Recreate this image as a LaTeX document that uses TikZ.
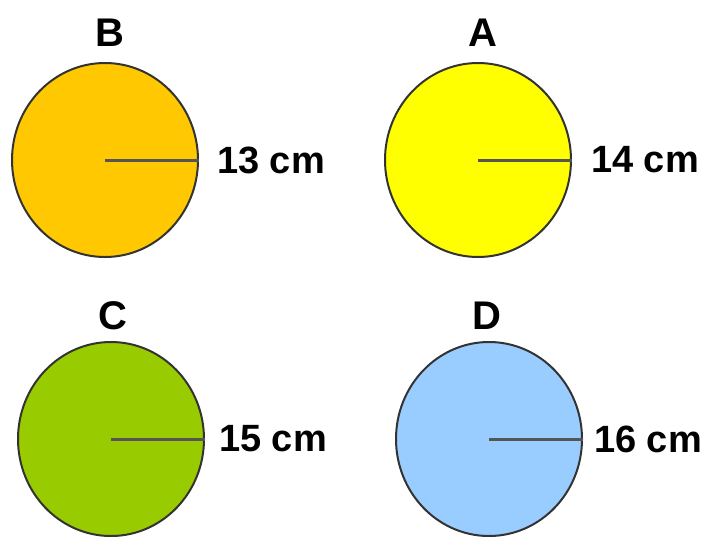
\documentclass[tikz,border=0pt]{standalone}
\usepackage{fontspec}
\setmainfont{Liberation Sans}
\usetikzlibrary{positioning}
\usetikzlibrary{shapes.geometric}
\definecolor{fillB}{HTML}{FFC800}
\definecolor{fillA}{HTML}{FFFF00}
\definecolor{fillC}{HTML}{99CC00}
\definecolor{fillD}{HTML}{99CCFF}
\definecolor{rimgray}{HTML}{333333}
\definecolor{radgray}{HTML}{555555}
\tikzset{
    x=1pt, y=-1pt, % one unit is one pixel, y going down
    disc/.style={ellipse, draw=rimgray, line width=2pt, minimum width=186pt, minimum height=194pt, inner sep=0pt}, % the filled circles
    radius/.style={draw=radgray, line width=3pt},
    letter/.style={font=\fontsize{40}{40}\selectfont\bfseries},
    size/.style={font=\fontsize{38}{38}\selectfont\bfseries, anchor=west, inner sep=0pt},
}
\begin{document}
\begin{tikzpicture}
  \useasboundingbox (0,0) rectangle (708,536);

  % the four circles
  \node[disc,fill=fillB] (c_b) at (105,160) {};
  \node[disc,fill=fillA] (c_a) at (478,160) {};
  \node[disc,fill=fillC] (c_c) at (111,439) {};
  \node[disc,fill=fillD] (c_d) at (489,439) {};

  % letters above
  \node[letter] (l_b) at (110,33)  {B};
  \node[letter] (l_a) at (483,33)  {A};
  \node[letter] (l_c) at (113,316) {C};
  \node[letter] (l_d) at (487,316) {D};

  % radii
  \draw[radius] (c_b.center) -- (c_b.east);
  \draw[radius] (c_a.center) -- (c_a.east);
  \draw[radius] (c_c.center) -- (c_c.east);
  \draw[radius] (c_d.center) -- (c_d.east);

  \node[size] (r_b) [right=18pt of c_b.east] {13 cm};
  \node[size] (r_a) [right=19pt of c_a.east] {14 cm};
  \node[size] (r_c) [right=14pt of c_c.east] {15 cm};
  \node[size] (r_d) [right=11pt of c_d.east] {16 cm};
\end{tikzpicture}
\end{document}
